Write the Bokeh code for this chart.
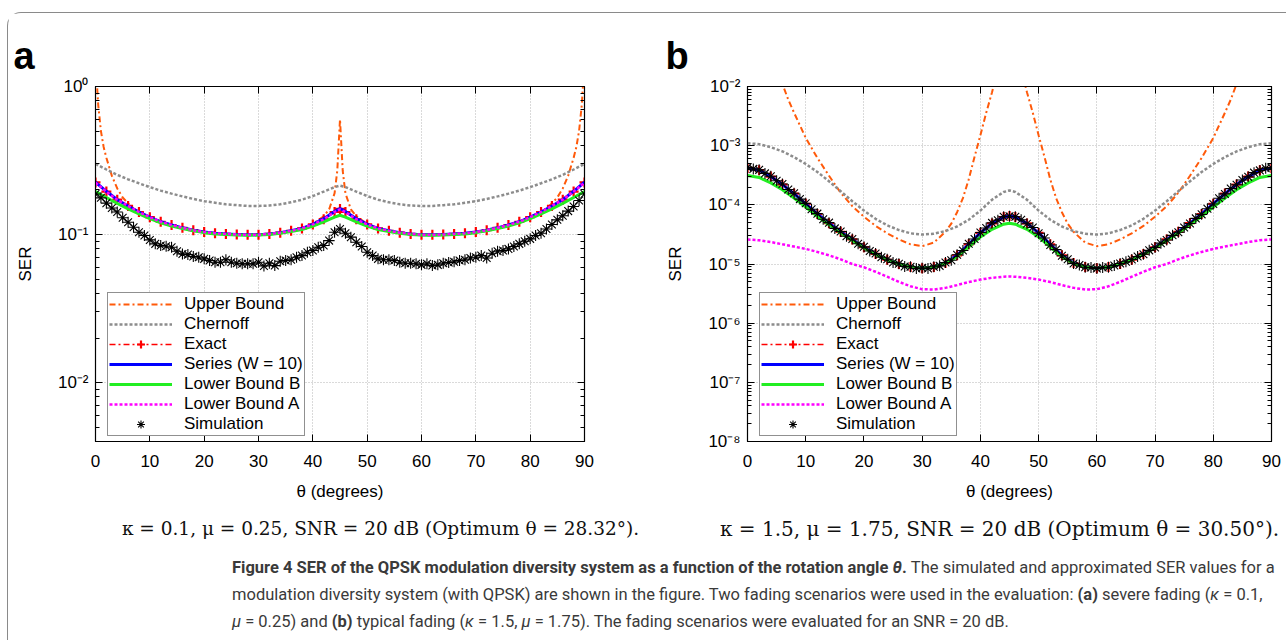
from bokeh.plotting import figure
from bokeh.models import (Range1d, LinearAxis, LogAxis, FixedTicker, LogTicker,
                          CustomJSTickFormatter, Legend, LegendItem, Div, Spacer)
from bokeh.layouts import column, row
from bokeh.embed import file_html
from bokeh.resources import INLINE
from bokeh.core.properties import value

FONT = "Liberation Sans"

# ---------------- data ----------------
X_TICKS = [0, 10, 20, 30, 40, 50, 60, 70, 80, 90]
THETA = [0, 2, 4, 6, 8, 10, 12, 14, 16, 18, 20, 22, 24, 26, 28, 30, 32, 34, 36, 38, 40, 42, 44, 45,
         46, 48, 50, 52, 54, 56, 58, 60, 62, 64, 66, 68, 70, 72, 74, 76, 78, 80, 82, 84, 86, 88, 90]
THETA_SIM = list(range(0, 91))

# panel a : kappa = 0.1, mu = 0.25
THETA_UPPER_A = [0, 0.5, 1, 1.5, 2, 3, 4, 5, 6, 7, 8, 10, 12, 15, 20, 25, 30, 35, 38, 40, 42, 43, 44, 44.5, 45,
                 45.5, 46, 47, 48, 50, 52, 55, 60, 65, 70, 75, 78, 80, 82, 83, 84, 85, 86, 87, 88, 88.5, 89, 89.5, 90]
upper_a = [1.5, 0.75, 0.5, 0.39, 0.33, 0.25, 0.205, 0.178, 0.162, 0.15, 0.142, 0.131, 0.122, 0.113, 0.104, 0.1005,
           0.0998, 0.104, 0.110, 0.118, 0.133, 0.148, 0.19, 0.27, 0.60,
           0.27, 0.19, 0.148, 0.133, 0.118, 0.110, 0.104, 0.0998, 0.1005, 0.104, 0.113, 0.122, 0.131, 0.142, 0.15,
           0.162, 0.178, 0.205, 0.25, 0.33, 0.39, 0.5, 0.75, 1.5]
chernoff_a = [0.300, 0.275, 0.253, 0.236, 0.222, 0.209, 0.198, 0.189, 0.181, 0.174, 0.168, 0.164, 0.160, 0.158,
              0.156, 0.156, 0.157, 0.160, 0.165, 0.172, 0.182, 0.195, 0.209, 0.214,
              0.209, 0.195, 0.182, 0.172, 0.165, 0.160, 0.157, 0.156, 0.156, 0.158, 0.160, 0.164, 0.168, 0.174,
              0.181, 0.189, 0.198, 0.209, 0.222, 0.236, 0.253, 0.275, 0.300]
exact_a = [0.225, 0.195, 0.172, 0.156, 0.142, 0.131, 0.122, 0.116, 0.111, 0.107, 0.104, 0.102, 0.101, 0.100,
           0.0995, 0.0998, 0.101, 0.103, 0.106, 0.110, 0.117, 0.127, 0.142, 0.149,
           0.142, 0.127, 0.117, 0.110, 0.106, 0.103, 0.101, 0.0998, 0.0995, 0.100, 0.101, 0.102, 0.104, 0.107,
           0.111, 0.116, 0.122, 0.131, 0.142, 0.156, 0.172, 0.195, 0.225]
series_a = [0.226, 0.196, 0.172, 0.156, 0.142, 0.131, 0.122, 0.116, 0.111, 0.107, 0.104, 0.102, 0.101, 0.100,
            0.0995, 0.0998, 0.101, 0.103, 0.106, 0.110, 0.117, 0.128, 0.143, 0.150,
            0.143, 0.128, 0.117, 0.110, 0.106, 0.103, 0.101, 0.0998, 0.0995, 0.100, 0.101, 0.102, 0.104, 0.107,
            0.111, 0.116, 0.122, 0.131, 0.142, 0.156, 0.172, 0.196, 0.226]
lbb_a = [0.195, 0.178, 0.162, 0.149, 0.138, 0.128, 0.120, 0.114, 0.110, 0.106, 0.103, 0.101, 0.100, 0.0993,
         0.0988, 0.0992, 0.100, 0.102, 0.105, 0.108, 0.114, 0.122, 0.131, 0.135,
         0.131, 0.122, 0.114, 0.108, 0.105, 0.102, 0.100, 0.0992, 0.0988, 0.0993, 0.100, 0.101, 0.103, 0.106,
         0.110, 0.114, 0.120, 0.128, 0.138, 0.149, 0.162, 0.178, 0.195]
lba_a = [0.224, 0.195, 0.172, 0.156, 0.142, 0.131, 0.122, 0.116, 0.111, 0.107, 0.104, 0.102, 0.101, 0.100,
         0.0995, 0.0998, 0.101, 0.103, 0.106, 0.110, 0.117, 0.127, 0.142, 0.148,
         0.142, 0.127, 0.117, 0.110, 0.106, 0.103, 0.101, 0.0998, 0.0995, 0.100, 0.101, 0.102, 0.104, 0.107,
         0.111, 0.116, 0.122, 0.131, 0.142, 0.156, 0.172, 0.195, 0.224]
sim_a = [0.188, 0.177, 0.163, 0.151, 0.142, 0.130, 0.121, 0.112, 0.1037, 0.0985,
         0.092, 0.0865, 0.0843, 0.0834, 0.0821, 0.0771, 0.074, 0.0732, 0.071, 0.0703,
         0.0685, 0.0668, 0.065, 0.065, 0.0675, 0.065, 0.064, 0.0634, 0.0634, 0.0634,
         0.065, 0.0614, 0.064, 0.0617, 0.066, 0.0668, 0.0675, 0.0703, 0.0721, 0.076,
         0.078, 0.0821, 0.0843, 0.091, 0.1037, 0.109, 0.102, 0.096, 0.0888, 0.083,
         0.076, 0.0721, 0.0685, 0.0675, 0.0675, 0.0668, 0.065, 0.064, 0.064, 0.0634,
         0.0624, 0.0634, 0.0617, 0.0624, 0.064, 0.0647, 0.0654, 0.0668, 0.0675, 0.0695,
         0.0703, 0.0721, 0.0695, 0.0748, 0.0771, 0.078, 0.080, 0.083, 0.0865, 0.090,
         0.0935, 0.0985, 0.102, 0.109, 0.117, 0.1257, 0.134, 0.144, 0.1546, 0.170,
         0.188]

# panel b : kappa = 1.5, mu = 1.75
THETA_UPPER_B = [0, 2, 4, 5, 6, 7, 8, 10, 12, 14, 16, 18, 20, 22, 24, 26, 28, 30, 32, 34, 35, 36, 37, 38, 39, 40,
                 41, 42, 43, 44, 45, 46, 47, 48, 49, 50, 51, 52, 53, 54, 55, 56, 58, 60, 62, 64, 66, 68, 70, 72,
                 74, 76, 78, 80, 82, 83, 84, 85, 86, 88, 90]
upper_b = [1.0, 0.2, 0.04, 0.02, 1.1e-2, 6.0e-3, 3.6e-3, 1.35e-3, 6.2e-4, 3.1e-4, 1.6e-4, 9.5e-5, 6.3e-5, 4.4e-5,
           3.3e-5, 2.6e-5, 2.15e-5, 2.0e-5, 2.3e-5, 3.5e-5, 4.8e-5, 7.5e-5, 1.3e-4, 2.7e-4, 6.5e-4, 1.5e-3,
           3.6e-3, 8.0e-3, 2.0e-2, 0.08, 1.0, 0.08, 2.0e-2, 8.0e-3, 3.6e-3, 1.5e-3, 6.5e-4, 2.7e-4, 1.3e-4,
           7.5e-5, 4.8e-5, 3.5e-5, 2.3e-5, 2.0e-5, 2.15e-5, 2.6e-5, 3.3e-5, 4.4e-5, 6.3e-5, 9.5e-5, 1.6e-4,
           3.1e-4, 6.2e-4, 1.35e-3, 3.6e-3, 6.0e-3, 1.1e-2, 0.02, 0.04, 0.2, 1.0]
chernoff_b = [1.1e-3, 1.06e-3, 9.4e-4, 8.0e-4, 6.4e-4, 4.9e-4, 3.6e-4, 2.5e-4, 1.7e-4, 1.15e-4, 8.0e-5, 5.8e-5,
              4.5e-5, 3.75e-5, 3.3e-5, 3.15e-5, 3.25e-5, 3.6e-5, 4.3e-5, 5.6e-5, 8.0e-5, 1.22e-4, 1.65e-4, 1.75e-4,
              1.65e-4, 1.22e-4, 8.0e-5, 5.6e-5, 4.3e-5, 3.6e-5, 3.25e-5, 3.15e-5, 3.3e-5, 3.75e-5, 4.5e-5, 5.8e-5,
              8.0e-5, 1.15e-4, 1.7e-4, 2.5e-4, 3.6e-4, 4.9e-4, 6.4e-4, 8.0e-4, 9.4e-4, 1.06e-3, 1.1e-3]
exact_b = [4.2e-4, 3.85e-4, 3.0e-4, 2.2e-4, 1.55e-4, 1.04e-4, 7.0e-5, 4.9e-5, 3.5e-5, 2.6e-5, 1.92e-5, 1.48e-5,
           1.18e-5, 1.0e-5, 8.9e-6, 8.5e-6, 8.9e-6, 1.04e-5, 1.4e-5, 2.15e-5, 3.35e-5, 4.85e-5, 6.2e-5, 6.5e-5,
           6.2e-5, 4.85e-5, 3.35e-5, 2.15e-5, 1.4e-5, 1.04e-5, 8.9e-6, 8.5e-6, 8.9e-6, 1.0e-5, 1.18e-5, 1.48e-5,
           1.92e-5, 2.6e-5, 3.5e-5, 4.9e-5, 7.0e-5, 1.04e-4, 1.55e-4, 2.2e-4, 3.0e-4, 3.85e-4, 4.2e-4]
series_b = [4.2e-4, 3.86e-4, 3.0e-4, 2.2e-4, 1.55e-4, 1.04e-4, 7.0e-5, 4.9e-5, 3.5e-5, 2.6e-5, 1.92e-5, 1.48e-5,
            1.18e-5, 1.0e-5, 8.9e-6, 8.5e-6, 8.9e-6, 1.04e-5, 1.4e-5, 2.15e-5, 3.35e-5, 4.85e-5, 6.2e-5, 6.5e-5,
            6.2e-5, 4.85e-5, 3.35e-5, 2.15e-5, 1.4e-5, 1.04e-5, 8.9e-6, 8.5e-6, 8.9e-6, 1.0e-5, 1.18e-5, 1.48e-5,
            1.92e-5, 2.6e-5, 3.5e-5, 4.9e-5, 7.0e-5, 1.04e-4, 1.55e-4, 2.2e-4, 3.0e-4, 3.86e-4, 4.2e-4]
lbb_b = [3.13e-4, 2.9e-4, 2.35e-4, 1.8e-4, 1.3e-4, 9.2e-5, 6.4e-5, 4.6e-5, 3.35e-5, 2.5e-5, 1.86e-5, 1.45e-5,
         1.17e-5, 1.0e-5, 8.9e-6, 8.5e-6, 8.9e-6, 1.02e-5, 1.33e-5, 1.95e-5, 2.85e-5, 3.85e-5, 4.7e-5, 4.9e-5,
         4.7e-5, 3.85e-5, 2.85e-5, 1.95e-5, 1.33e-5, 1.02e-5, 8.9e-6, 8.5e-6, 8.9e-6, 1.0e-5, 1.17e-5, 1.45e-5,
         1.86e-5, 2.5e-5, 3.35e-5, 4.6e-5, 6.4e-5, 9.2e-5, 1.3e-4, 1.8e-4, 2.35e-4, 2.9e-4, 3.13e-4]
lba_b = [2.6e-5, 2.52e-5, 2.35e-5, 2.15e-5, 1.97e-5, 1.8e-5, 1.6e-5, 1.4e-5, 1.2e-5, 1.0e-5, 8.8e-6, 7.4e-6,
         6.1e-6, 5.0e-6, 4.2e-6, 3.75e-6, 3.7e-6, 3.95e-6, 4.4e-6, 4.95e-6, 5.45e-6, 5.85e-6, 6.1e-6, 6.15e-6,
         6.1e-6, 5.85e-6, 5.45e-6, 4.95e-6, 4.4e-6, 3.95e-6, 3.7e-6, 3.75e-6, 4.2e-6, 5.0e-6, 6.1e-6, 7.4e-6,
         8.8e-6, 1.0e-5, 1.2e-5, 1.4e-5, 1.6e-5, 1.8e-5, 1.97e-5, 2.15e-5, 2.35e-5, 2.52e-5, 2.6e-5]
sim_b = [4.3e-4, 4.05e-4, 3.9e-4, 3.4e-4, 3.05e-4, 2.55e-4, 2.25e-4, 1.82e-4, 1.57e-4, 1.25e-4,
         1.06e-4, 8.4e-5, 7.1e-5, 5.7e-5, 5.0e-5, 4.0e-5, 3.55e-5, 2.95e-5, 2.65e-5, 2.2e-5,
         1.95e-5, 1.66e-5, 1.5e-5, 1.3e-5, 1.2e-5, 1.06e-5, 1.01e-5, 9.1e-6, 9.0e-6, 8.4e-6,
         8.6e-6, 8.4e-6, 9.0e-6, 9.3e-6, 1.06e-5, 1.16e-5, 1.43e-5, 1.69e-5, 2.2e-5, 2.65e-5,
         3.4e-5, 4.05e-5, 4.95e-5, 5.5e-5, 6.3e-5, 6.4e-5, 6.3e-5, 5.6e-5, 4.8e-5, 4.15e-5,
         3.3e-5, 2.75e-5, 2.1e-5, 1.75e-5, 1.38e-5, 1.2e-5, 1.02e-5, 9.6e-6, 8.8e-6, 8.7e-6,
         8.4e-6, 8.7e-6, 8.8e-6, 9.4e-6, 1.02e-5, 1.09e-5, 1.19e-5, 1.34e-5, 1.46e-5, 1.7e-5,
         1.9e-5, 2.25e-5, 2.55e-5, 3.05e-5, 3.45e-5, 4.15e-5, 4.85e-5, 5.9e-5, 6.9e-5, 8.6e-5,
         1.03e-4, 1.29e-4, 1.53e-4, 1.88e-4, 2.18e-4, 2.63e-4, 2.97e-4, 3.5e-4, 3.82e-4, 4.15e-4,
         4.25e-4]

SUB_A = "κ = 0.1, μ = 0.25, SNR = 20 dB (Optimum θ = 28.32°)."
SUB_B = "κ = 1.5, μ = 1.75, SNR = 20 dB (Optimum θ = 30.50°)."
CAPTION = ("<b>Figure 4 SER of the QPSK modulation diversity system as a function of the rotation angle "
           "<i>θ</i>.</b> The simulated and approximated SER values for a<br>"
           "modulation diversity system (with QPSK) are shown in the figure. Two fading scenarios were used in "
           "the evaluation: <b>(a)</b> severe fading (<i>κ</i> = 0.1,<br>"
           "<i>μ</i> = 0.25) and <b>(b)</b> typical fading (<i>κ</i> = 1.5, <i>μ</i> = 1.75). "
           "The fading scenarios were evaluated for an SNR = 20 dB.")

SUP_JS = """
const e = Math.round(Math.log10(tick));
const m = {"-":"\u207b","0":"\u2070","1":"\u00b9","2":"\u00b2","3":"\u00b3","4":"\u2074",
           "5":"\u2075","6":"\u2076","7":"\u2077","8":"\u2078","9":"\u2079"};
return "10" + String(e).split("").map(c => m[c]).join("");
"""

C_UPPER = "#ff5a0a"
C_CHERN = "#8c8c8c"
C_EXACT = "#ff0000"
C_SERIES = "#0000ff"
C_LBB = "#22ee22"
C_LBA = "#ff00ff"


def style_axis(ax):
    ax.axis_line_color = "black"
    ax.major_tick_in = 7
    ax.major_tick_out = 0
    ax.minor_tick_in = 4
    ax.minor_tick_out = 0
    ax.major_tick_line_color = "black"
    ax.minor_tick_line_color = "black"
    ax.major_label_text_font = FONT
    ax.major_label_text_font_size = "17px"
    ax.major_label_text_color = "black"
    ax.axis_label_text_font = FONT
    ax.axis_label_text_font_size = "17px"
    ax.axis_label_text_font_style = "normal"
    ax.axis_label_text_color = "black"


def make_panel(frame_w, bl, br, y_lo, y_hi, letter, th_up, up, ch, ex, se, lb, la, sim):
    p = figure(frame_width=frame_w, frame_height=355, x_range=Range1d(0, 90),
               y_range=Range1d(y_lo, y_hi), y_axis_type="log",
               output_backend="svg", toolbar_location=None,
               min_border_left=bl, min_border_right=br, min_border_top=73, min_border_bottom=64,
               x_axis_label="θ (degrees)", y_axis_label="SER", title=letter)
    p.title.text_font = FONT
    p.title.text_font_size = "38px"
    p.title.text_font_style = "bold"
    p.title.text_color = "black"
    p.title.align = "left"
    p.title.offset = -(bl - 5)
    p.title.standoff = 20
    p.title.text_line_height = 1.0
    p.outline_line_color = "black"
    p.outline_line_width = 1.2
    xt = FixedTicker(ticks=X_TICKS, minor_ticks=[])
    yt = LogTicker(num_minor_ticks=10)
    p.xaxis.ticker = xt
    p.yaxis.ticker = yt
    p.yaxis.formatter = CustomJSTickFormatter(code=SUP_JS)
    p.xgrid.ticker = xt
    p.ygrid.ticker = yt
    for g in (p.xgrid[0], p.ygrid[0]):
        g.grid_line_color = "#b4b4b4"
        g.grid_line_dash = "1 2"
        g.grid_line_width = 1
    style_axis(p.xaxis[0])
    style_axis(p.yaxis[0])
    p.xaxis[0].major_label_standoff = 13
    p.xaxis[0].axis_label_standoff = 12
    p.yaxis[0].major_label_standoff = 7
    p.yaxis[0].axis_label_standoff = 20
    top = LinearAxis(ticker=xt, formatter=CustomJSTickFormatter(code="return '';"))
    right = LogAxis(ticker=yt, formatter=CustomJSTickFormatter(code="return '';"))
    style_axis(top)
    style_axis(right)
    top.major_label_standoff = 0
    right.major_label_standoff = 0
    p.add_layout(top, "above")
    p.add_layout(right, "right")

    r_up = p.line(th_up, up, color=C_UPPER, line_width=2, line_dash="6 3 2 3")
    r_ch = p.line(THETA, ch, color=C_CHERN, line_width=2.5, line_dash="3 2")
    r_exl = p.line(THETA, ex, color=C_EXACT, line_width=1.5, line_dash="6 3 2 3")
    r_exm = p.scatter(THETA, ex, marker="cross", size=10, line_color=C_EXACT, line_width=2.2)
    r_se = p.line(THETA, se, color=C_SERIES, line_width=3)
    r_lb = p.line(THETA, lb, color=C_LBB, line_width=3)
    r_la = p.line(THETA, la, color=C_LBA, line_width=2.5, line_dash="3 2")
    r_sim = p.scatter(THETA_SIM, sim, marker="asterisk", size=11, line_color="black", line_width=1.1)

    items = [LegendItem(label="Upper Bound", renderers=[r_up]),
             LegendItem(label="Chernoff", renderers=[r_ch]),
             LegendItem(label="Exact", renderers=[r_exl, r_exm]),
             LegendItem(label="Series (W = 10)", renderers=[r_se]),
             LegendItem(label="Lower Bound B", renderers=[r_lb]),
             LegendItem(label="Lower Bound A", renderers=[r_la]),
             LegendItem(label="Simulation", renderers=[r_sim])]
    leg = Legend(items=items, location=(12, 5), orientation="vertical",
                 label_text_font=FONT, label_text_font_size="17px", label_text_color="black",
                 glyph_width=63, glyph_height=20, label_height=20, label_standoff=12,
                 padding=1, spacing=0, margin=0,
                 border_line_color="#222222", border_line_width=1.2,
                 background_fill_color="white", background_fill_alpha=1.0)
    p.add_layout(leg)
    return p


fa = make_panel(489, 87, 76, 0.004, 1.0, "a", THETA_UPPER_A, upper_a, chernoff_a,
                exact_a, series_a, lbb_a, lba_a, sim_a)
fb = make_panel(524, 87, 13, 1e-8, 1e-2, "b", THETA_UPPER_B, upper_b, chernoff_b,
                exact_b, series_b, lbb_b, lba_b, sim_b)

cap = figure(width=1276, height=44, x_range=Range1d(0, 1276), y_range=Range1d(0, 44),
             output_backend="svg", toolbar_location=None, x_axis_location=None,
             y_axis_location=None, min_border=0, outline_line_color=None)
cap.grid.visible = False
cap.text(x=[372], y=[21], text=[SUB_A], text_font=value("DejaVu Serif"),
         text_font_size="18.5px", text_align="center", text_baseline="middle", text_color="#111111")
cap.text(x=[991], y=[21], text=[SUB_B], text_font=value("DejaVu Serif"),
         text_font_size="20px", text_align="center", text_baseline="middle", text_color="#111111")

div = Div(text=CAPTION, width=1056, height=81,
          styles={"font-family": "Roboto", "font-size": "16.5px", "line-height": "27px",
                  "color": "#3a3a3a", "white-space": "nowrap"})
cap_row = row(Spacer(width=219, height=81), div)

layout = column(row(fa, fb), cap, cap_row,
                styles={"margin-left": "7px", "margin-top": "12px",
                        "border-left": "1px solid #8a8a8a", "border-top": "1px solid #8a8a8a",
                        "border-top-left-radius": "14px"})

with open("out.html", "w", encoding="utf-8") as f:
    f.write(file_html(layout, INLINE, title="SER vs rotation angle"))
